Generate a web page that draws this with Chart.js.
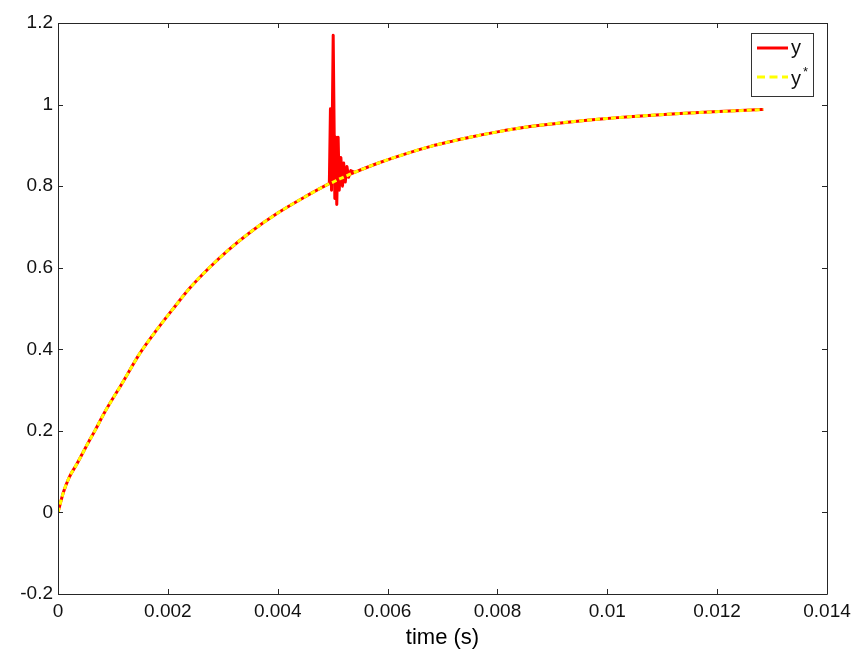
<!DOCTYPE html>
<html>
<head>
<meta charset="utf-8">
<script src="https://cdn.jsdelivr.net/npm/chart.js@4/dist/chart.umd.min.js"></script>
<style>
  html, body { margin: 0; padding: 0; background: #ffffff; }
  #wrap { width: 863px; height: 653px; position: relative; }
</style>
</head>
<body>
<div id="wrap"><canvas id="c" width="863" height="653"></canvas></div>
<script>
// ---- data ----
const smoothTimeBefore = [0, 0.0001, 0.0002, 0.00034, 0.00055, 0.00067, 0.00086, 0.00116, 0.00149, 0.0018, 0.0021, 0.0024, 0.00274, 0.0031, 0.0035, 0.004, 0.0045, 0.00494];
const smoothValBefore  = [0, 0.05, 0.085, 0.118, 0.171, 0.2, 0.248, 0.315, 0.39, 0.448, 0.5, 0.55, 0.598, 0.643, 0.687, 0.734, 0.774, 0.806];
const smoothTimeMid = [0.00501, 0.0051, 0.0052, 0.00533];
const smoothValMid  = [0.81, 0.816, 0.822, 0.83];
const smoothTimeAfter = [0.0054, 0.00586, 0.0063, 0.00677, 0.0072, 0.0075, 0.008, 0.00859, 0.0095, 0.0104, 0.01132, 0.01223, 0.01284];
const smoothValAfter  = [0.834, 0.858, 0.878, 0.897, 0.911, 0.92, 0.933, 0.946, 0.96, 0.970, 0.978, 0.984, 0.988];
// disturbance of the measured output y around t = 5 ms
const spikeTime = [0.00494, 0.00496, 0.00498, 0.00501, 0.00504, 0.00506, 0.005075, 0.0051, 0.00512, 0.00515, 0.00518, 0.0052, 0.00523, 0.00526, 0.00529, 0.00533, 0.0054];
const spikeVal  = [0.806, 0.99, 0.79, 1.17, 0.77, 0.92, 0.755, 0.92, 0.79, 0.87, 0.80, 0.857, 0.81, 0.848, 0.822, 0.838, 0.834];
const xTickValues = [0, 0.002, 0.004, 0.006, 0.008, 0.01, 0.012, 0.014];
const xTickLabels = ['0', '0.002', '0.004', '0.006', '0.008', '0.01', '0.012', '0.014'];
const yTickValues = [-0.2, 0, 0.2, 0.4, 0.6, 0.8, 1, 1.2];
const yTickLabels = ['-0.2', '0', '0.2', '0.4', '0.6', '0.8', '1', '1.2'];
const seriesNames = ['y', 'y*'];
const xTitle = 'time (s)';

function pts(ts, vs) { return ts.map((t, i) => ({ x: t, y: vs[i] })); }
const smoothPts = pts(smoothTimeBefore, smoothValBefore)
  .concat(pts(smoothTimeMid, smoothValMid))
  .concat(pts(smoothTimeAfter, smoothValAfter));
const spikePts = pts(spikeTime, spikeVal);

const FONT = "'Liberation Sans', Arial, Helvetica, sans-serif";
const AXIS_COLOR = '#262626';

const framePlugin = {
  id: 'matlabFrame',
  afterDatasetsDraw(chart) {
    const ctx = chart.ctx;
    const a = chart.chartArea;
    const xs = chart.scales.x, ys = chart.scales.y;
    ctx.save();
    ctx.strokeStyle = AXIS_COLOR;
    ctx.lineWidth = 1;
    ctx.beginPath();
    ctx.rect(Math.round(a.left) + 0.5, Math.round(a.top) + 0.5, Math.round(a.right - a.left), Math.round(a.bottom - a.top));
    ctx.stroke();
    const tl = 5;
    ctx.beginPath();
    xTickValues.forEach(v => {
      const px = Math.round(xs.getPixelForValue(v)) + 0.5;
      ctx.moveTo(px, a.bottom); ctx.lineTo(px, a.bottom - tl);
      ctx.moveTo(px, a.top); ctx.lineTo(px, a.top + tl);
    });
    yTickValues.forEach(v => {
      const py = Math.round(ys.getPixelForValue(v)) + 0.5;
      ctx.moveTo(a.left, py); ctx.lineTo(a.left + tl, py);
      ctx.moveTo(a.right, py); ctx.lineTo(a.right - tl, py);
    });
    ctx.stroke();

    // legend box (MATLAB style)
    const bx = 751.5, by = 33.5, bw = 62, bh = 63;
    ctx.fillStyle = '#ffffff';
    ctx.fillRect(bx, by, bw, bh);
    ctx.strokeStyle = '#333333';
    ctx.strokeRect(bx, by, bw, bh);
    const ds = chart.data.datasets;
    ctx.lineWidth = 3;
    ctx.strokeStyle = ds[0].borderColor;
    ctx.setLineDash([]);
    ctx.beginPath(); ctx.moveTo(757, 48); ctx.lineTo(788, 48); ctx.stroke();
    ctx.strokeStyle = ds[2].borderColor;
    ctx.setLineDash([8, 4.5]);
    ctx.beginPath(); ctx.moveTo(757, 77); ctx.lineTo(788, 77); ctx.stroke();
    ctx.setLineDash([]);
    ctx.fillStyle = '#111111';
    ctx.font = '20px ' + FONT;
    ctx.textBaseline = 'alphabetic';
    ctx.textAlign = 'left';
    ctx.fillText(seriesNames[0].charAt(0), 791, 54);
    ctx.fillText(seriesNames[1].charAt(0), 791, 85);
    ctx.font = '13px ' + FONT;
    ctx.fillText(seriesNames[1].slice(1), 803, 76);
    ctx.restore();
  }
};

new Chart(document.getElementById('c'), {
  type: 'line',
  data: {
    datasets: [
      {
        label: seriesNames[0],
        data: smoothPts,
        borderColor: '#ff0000',
        borderWidth: 3,
        pointRadius: 0,
        fill: false,
        cubicInterpolationMode: 'monotone',
        order: 3
      },
      {
        label: seriesNames[0] + ' (disturbance)',
        data: spikePts,
        borderColor: '#ff0000',
        borderWidth: 3,
        pointRadius: 0,
        fill: false,
        tension: 0,
        borderJoinStyle: 'round',
        order: 2
      },
      {
        label: seriesNames[1],
        data: smoothPts,
        borderColor: '#ffff00',
        borderWidth: 3,
        borderDash: [5, 3],
        pointRadius: 0,
        fill: false,
        cubicInterpolationMode: 'monotone',
        order: 1
      }
    ]
  },
  options: {
    responsive: false,
    animation: false,
    devicePixelRatio: 1,
    layout: { padding: { left: 0, right: 36, top: 23, bottom: 0 } },
    plugins: { legend: { display: false }, tooltip: { enabled: false } },
    scales: {
      x: {
        type: 'linear',
        min: 0, max: 0.014,
        afterBuildTicks(s) { s.ticks = xTickValues.map(v => ({ value: v })); },
        afterFit(s) { s.height = 59; },
        grid: { display: false, drawTicks: false },
        border: { display: false },
        ticks: {
          padding: 6,
          color: '#111111',
          font: { family: FONT, size: 19 },
          maxRotation: 0,
          autoSkip: false,
          callback: (v, i) => xTickLabels[i]
        },
        title: {
          display: true,
          text: xTitle,
          color: '#000000',
          font: { family: FONT, size: 22 },
          padding: { top: 0, bottom: 2 }
        }
      },
      y: {
        type: 'linear',
        min: -0.2, max: 1.2,
        afterBuildTicks(s) { s.ticks = yTickValues.map(v => ({ value: v })); },
        afterFit(s) { s.width = 58; },
        grid: { display: false, drawTicks: false },
        border: { display: false },
        ticks: {
          padding: 5,
          color: '#111111',
          font: { family: FONT, size: 19 },
          autoSkip: false,
          callback: (v, i) => yTickLabels[i]
        }
      }
    }
  },
  plugins: [framePlugin]
});
</script>
</body>
</html>
